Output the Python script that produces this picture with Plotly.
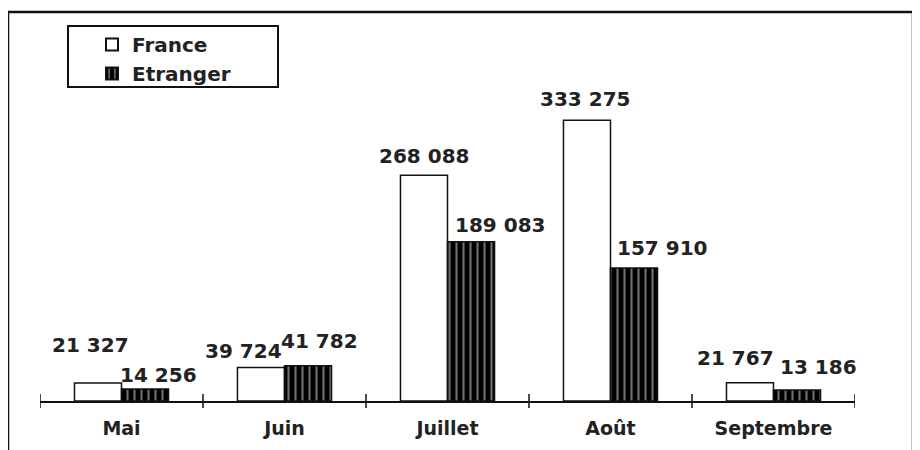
import plotly.graph_objects as go

months = ["Mai", "Juin", "Juillet", "Août", "Septembre"]
france = [21327, 39724, 268088, 333275, 21767]
etranger = [14256, 41782, 189083, 157910, 13186]
france_labels = ["21 327", "39 724", "268 088", "333 275", "21 767"]
etranger_labels = ["14 256", "41 782", "189 083", "157 910", "13 186"]

# label placement tweaks (pixels): horizontal offset from bar centre, vertical gap above bar
france_dx = [-8, -18, 0, -2, -15]
france_gap = [30, 9, 11, 13, 17]
etranger_dx = [13, 11, 29, 28, 21]
etranger_gap = [6, 17, 9, 12, 15]

FONT = "DejaVu Sans"
TXT = "#222222"

# page offset (browser body margin)
OX, OY = 8, 8

fig = go.Figure()
fig.add_trace(go.Bar(
    name="<b>France</b>", x=months, y=france,
    marker=dict(color="white", line=dict(color="#111111", width=1.5)),
))
fig.add_trace(go.Bar(
    name="<b>Etranger</b>", x=months, y=etranger,
    marker=dict(color="black", line=dict(color="#111111", width=1.5),
                pattern=dict(shape="|", fgcolor="#e0e0e0", bgcolor="black",
                             size=7, solidity=0.3)),
))

BAR_OFF = 23.5  # half bar width in px
annotations = []
for i, m in enumerate(months):
    annotations.append(dict(x=m, y=france[i], text="<b>%s</b>" % france_labels[i],
                            showarrow=False, xanchor="center", yanchor="bottom",
                            xshift=-BAR_OFF + france_dx[i], yshift=france_gap[i] - 6,
                            font=dict(family=FONT, size=20, color=TXT)))
    annotations.append(dict(x=m, y=etranger[i], text="<b>%s</b>" % etranger_labels[i],
                            showarrow=False, xanchor="center", yanchor="bottom",
                            xshift=BAR_OFF + etranger_dx[i], yshift=etranger_gap[i] - 6,
                            font=dict(family=FONT, size=20, color=TXT)))

W, H = 920, 450
# plot area in page pixels: x 40..855, y 64..401
L = 40 - OX
T = 64 - OY
R = W - (855 - OX)
B = H - (401 - OY)
pw, ph = W - L - R, H - T - B

def px(xp):
    return (xp - OX - L) / pw

def py(yp):
    return (H - B - (yp - OY)) / ph

shapes = [
    # outer frame
    dict(type="rect", xref="paper", yref="paper", x0=px(8), x1=px(913), y0=py(480), y1=py(12),
         line=dict(color="#111111", width=2.5), fillcolor="rgba(0,0,0,0)", layer="above"),
    # legend frame
    dict(type="rect", xref="paper", yref="paper", x0=px(68), x1=px(278), y0=py(87), y1=py(26),
         line=dict(color="#111111", width=2), fillcolor="white", layer="below"),
]
# crossing tick marks at category boundaries
for k in range(len(months) + 1):
    shapes.append(dict(type="line", xref="x", yref="paper", x0=k - 0.5, x1=k - 0.5,
                       ysizemode="pixel", yanchor=0, y0=-7, y1=7,
                       line=dict(color="#111111", width=1.5)))

fig.update_layout(
    width=W, height=H,
    margin=dict(l=L, r=R, t=T, b=B),
    paper_bgcolor="white", plot_bgcolor="white",
    barmode="group", bargap=0.423, bargroupgap=0,
    font=dict(family=FONT, color=TXT),
    showlegend=True,
    legend=dict(x=px(92), y=py(25), xanchor="left", yanchor="top",
                bgcolor="rgba(0,0,0,0)", borderwidth=0,
                font=dict(family=FONT, size=20, color=TXT),
                itemsizing="constant", tracegroupgap=0),
    annotations=annotations,
    shapes=shapes,
    xaxis=dict(type="category", range=[-0.5, 4.5], showline=True, linecolor="#111111",
               linewidth=2, ticks="outside", ticklen=7, tickwidth=0, tickcolor="rgba(0,0,0,0)",
               ticklabelstandoff=2,
               showgrid=False, zeroline=False,
               tickprefix="<b>", ticksuffix="</b>",
               tickfont=dict(family=FONT, size=19, color=TXT)),
    yaxis=dict(range=[0, 400000], visible=False, showgrid=False, zeroline=False),
)
fig.write_html("out.html")
